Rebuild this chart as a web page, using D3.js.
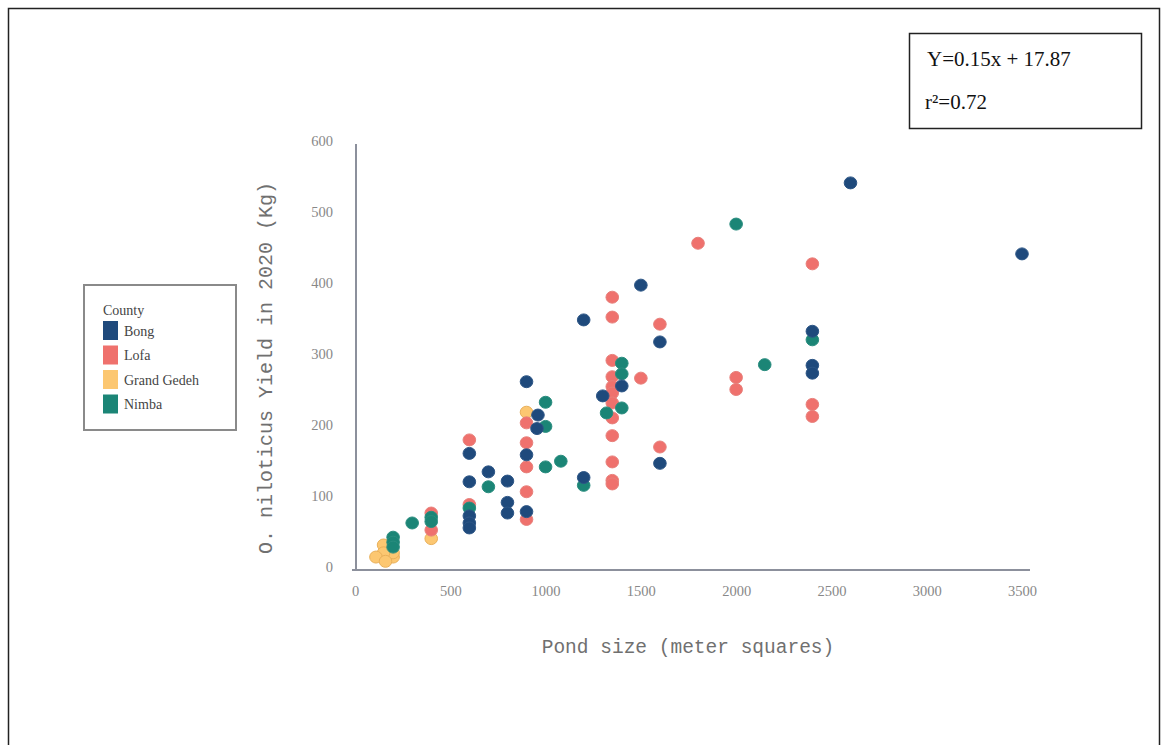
<!DOCTYPE html>
<html>
<head>
<meta charset="utf-8">
<script src="https://cdn.jsdelivr.net/npm/d3@7/dist/d3.min.js"></script>
<style>
  html, body { margin: 0; padding: 0; background: #fff; }
  svg { display: block; }
</style>
</head>
<body>
<svg id="chart" width="1168" height="745"></svg>
<script>
// Pond size (m²) and 2020 O. niloticus yield (kg) per county
const counties = ["Bong", "Lofa", "Grand Gedeh", "Nimba"];
const countyColors = ["#1f4a7c", "#ef716d", "#fcc771", "#1b8576"];
const countyStrokes = ["#2d5686", "#e8807b", "#e9b05a", "#2a8d7f"];

const bongX = [2600, 3500, 1500, 1200, 2400, 1600, 2400, 2400, 900, 960, 955, 900, 1400, 1300, 1600, 1200, 600, 600, 700, 800, 800, 800, 900, 600, 600, 600];
const bongY = [541, 441, 397, 348, 332, 317, 284, 273, 261, 214, 195, 158, 255, 241, 146, 126, 160, 120, 134, 121, 91, 76, 78, 72, 62, 55];

const lofaX = [1800, 2400, 1350, 1350, 1600, 1350, 1350, 1500, 1350, 1350, 1350, 1350, 1350, 1350, 1350, 1350, 2000, 2000, 2400, 2400, 1600, 900, 900, 900, 900, 900, 600, 600, 400, 400];
const lofaY = [456, 427, 380, 352, 342, 291, 268, 266, 254, 245, 231, 210, 185, 148, 122, 117, 267, 250, 229, 212, 169, 203, 175, 141, 106, 67, 179, 88, 76, 52];

const gedehX = [900, 400, 200, 200, 150, 150, 110, 160];
const gedehY = [218, 40, 14, 20, 31, 20, 14, 8];

const nimbaX = [2000, 2150, 2400, 1400, 1400, 1400, 1320, 1000, 1000, 1000, 1080, 1200, 700, 600, 400, 400, 300, 200, 200, 200];
const nimbaY = [483, 285, 320, 287, 272, 224, 217, 232, 198, 141, 149, 115, 113, 83, 70, 64, 62, 42, 35, 28];

const xTicks = [0, 500, 1000, 1500, 2000, 2500, 3000, 3500];
const yTicks = [0, 100, 200, 300, 400, 500, 600];

const equationLines = ["Y=0.15x + 17.87", "r\u00B2=0.72"];

const seriesX = [bongX, lofaX, gedehX, nimbaX];
const seriesY = [bongY, lofaY, gedehY, nimbaY];

const svg = d3.select("#chart");

// outer frame
svg.append("rect")
  .attr("x", 8.5).attr("y", 8.5)
  .attr("width", 1151).attr("height", 760)
  .attr("fill", "none").attr("stroke", "#222").attr("stroke-width", 1.5);

const x = d3.scaleLinear().domain([0, 3500]).range([355, 1022]);
const y = d3.scaleLinear().domain([0, 600]).range([567, 141]);

// axis lines
svg.append("line")
  .attr("x1", 356).attr("x2", 356).attr("y1", 144).attr("y2", 571)
  .attr("stroke", "#8c909c").attr("stroke-width", 2);
svg.append("line")
  .attr("x1", 352).attr("x2", 1030).attr("y1", 570).attr("y2", 570)
  .attr("stroke", "#8c909c").attr("stroke-width", 2);

// tick labels
const yAxis = svg.append("g")
  .attr("transform", "translate(333,0)")
  .call(d3.axisLeft(y).tickValues(yTicks).tickSize(0).tickPadding(0).tickFormat(d3.format("d")));
yAxis.select(".domain").remove();
yAxis.attr("font-size", null).attr("font-family", null);
yAxis.selectAll("text")
  .style("font-family", "'Liberation Serif', serif")
  .style("font-size", "14.5px")
  .attr("fill", "#888");

const xAxis = svg.append("g")
  .attr("transform", "translate(0,586)")
  .call(d3.axisBottom(x).tickValues(xTicks).tickSize(0).tickPadding(0).tickFormat(d3.format("d")));
xAxis.select(".domain").remove();
xAxis.attr("font-size", null).attr("font-family", null);
xAxis.selectAll("text")
  .style("font-family", "'Liberation Serif', serif")
  .style("font-size", "14.5px")
  .attr("fill", "#888");

// axis titles
svg.append("text")
  .attr("x", 688).attr("y", 653)
  .attr("text-anchor", "middle")
  .attr("font-family", "'Liberation Mono', monospace")
  .attr("font-size", 19.5)
  .attr("fill", "#707070")
  .text("Pond size (meter squares)");

svg.append("text")
  .attr("transform", "translate(272,368) rotate(-90)")
  .attr("text-anchor", "middle")
  .attr("font-family", "'Liberation Mono', monospace")
  .attr("font-size", 20)
  .attr("fill", "#707070")
  .text("O. niloticus Yield in 2020 (Kg)");

// points, drawn series by series
const drawOrder = [2, 1, 3, 0];
drawOrder.forEach(i => {
  const pts = seriesX[i].map((v, k) => ({ px: v, py: seriesY[i][k] }));
  svg.append("g")
    .selectAll("ellipse")
    .data(pts)
    .join("ellipse")
    .attr("cx", d => x(d.px))
    .attr("cy", d => y(d.py))
    .attr("rx", 6.3).attr("ry", 6)
    .attr("fill", countyColors[i])
    .attr("stroke", countyStrokes[i])
    .attr("stroke-width", 1);
});

// legend
const legend = svg.append("g");
legend.append("rect")
  .attr("x", 84).attr("y", 285).attr("width", 152).attr("height", 145)
  .attr("fill", "#fff").attr("stroke", "#8a8a8a").attr("stroke-width", 2);
legend.append("text")
  .attr("x", 103).attr("y", 315)
  .attr("font-family", "'Liberation Serif', serif")
  .attr("font-size", 14)
  .attr("fill", "#444")
  .text("County");
counties.forEach((c, i) => {
  const top = 321 + i * 24.5;
  legend.append("rect")
    .attr("x", 103).attr("y", top).attr("width", 15).attr("height", 19)
    .attr("fill", countyColors[i]);
  legend.append("text")
    .attr("x", 124).attr("y", top + 14.5)
    .attr("font-family", "'Liberation Serif', serif")
    .attr("font-size", 14)
    .attr("fill", "#444")
    .text(c);
});

// regression equation box
const eq = svg.append("g");
eq.append("rect")
  .attr("x", 909.5).attr("y", 33.5).attr("width", 232).attr("height", 95)
  .attr("fill", "#fff").attr("stroke", "#222").attr("stroke-width", 1.5);
eq.selectAll("text.eq")
  .data(equationLines)
  .join("text")
  .attr("class", "eq")
  .attr("x", (d, i) => i === 0 ? 927 : 925)
  .attr("y", (d, i) => i === 0 ? 66 : 109)
  .attr("font-family", "'Liberation Serif', serif")
  .attr("font-size", 21)
  .attr("fill", "#111")
  .text(d => d);
</script>
</body>
</html>
